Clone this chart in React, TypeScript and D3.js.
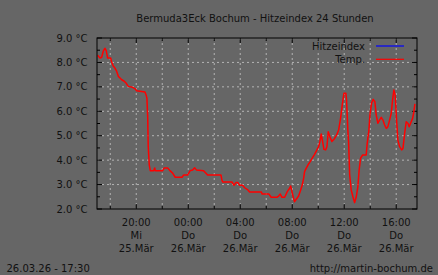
import React from "react";
import * as d3 from "d3";

// hours since 25.03 00:00
const hours = [17.03,17.21,17.34,17.46,17.59,17.69,17.80,18.03,18.11,18.23,18.36,18.49,18.62,18.75,18.88,19.08,19.21,19.38,19.72,19.92,20.03,20.67,20.75,20.82,20.88,20.92,21.00,21.08,21.34,21.42,21.46,22.03,22.15,22.42,22.59,22.80,23.00,23.52,23.65,23.95,24.15,24.34,24.49,24.62,25.18,25.31,25.49,26.52,26.59,26.65,27.36,27.52,27.67,27.82,27.95,28.18,28.34,28.59,28.72,29.62,29.69,30.21,30.38,30.82,30.95,31.08,31.21,31.42,31.62,31.80,31.88,31.95,32.08,32.18,32.31,32.49,32.65,32.77,32.88,32.95,33.08,33.21,33.38,33.54,33.72,33.90,34.03,34.13,34.23,34.34,34.44,34.57,34.67,34.77,34.90,35.05,35.26,35.42,35.57,35.72,35.85,35.98,36.13,36.18,36.28,36.34,36.42,36.54,36.67,36.80,36.92,37.05,37.15,37.26,37.42,37.69,37.77,37.90,37.98,38.11,38.23,38.36,38.46,38.59,38.72,38.85,38.98,39.11,39.24,39.36,39.49,39.62,39.72,39.82,39.92,40.03,40.13,40.26,40.42,40.52,40.65,40.77,40.90,41.00,41.11,41.26,41.36,41.44];
const temps = [8.29,8.18,8.21,8.46,8.58,8.48,8.18,8.18,8.02,7.85,7.77,7.64,7.43,7.36,7.29,7.23,7.16,7.02,6.98,6.92,6.84,6.79,6.68,6.54,5.79,4.57,3.81,3.57,3.57,3.68,3.57,3.57,3.68,3.68,3.57,3.47,3.30,3.30,3.39,3.39,3.57,3.60,3.69,3.60,3.57,3.49,3.39,3.39,3.19,3.11,3.11,2.97,3.08,3.08,2.97,2.97,2.87,2.78,2.70,2.70,2.61,2.61,2.48,2.48,2.53,2.61,2.48,2.48,2.71,2.85,2.94,2.78,2.48,2.30,2.40,2.53,2.78,2.98,3.26,3.53,3.67,3.80,3.94,4.08,4.24,4.42,4.55,4.76,5.07,4.76,4.44,4.42,4.55,5.16,4.96,4.76,4.89,5.03,5.23,5.71,6.26,6.74,6.74,6.46,5.23,4.69,3.39,2.78,2.50,2.26,2.48,2.91,3.60,4.08,4.21,4.21,4.69,5.23,5.85,6.35,6.49,6.39,5.85,5.51,5.64,5.75,5.64,5.44,5.30,5.37,5.64,5.92,6.46,6.87,6.67,5.64,4.82,4.55,4.42,4.48,5.10,5.57,5.51,5.37,5.51,5.71,5.98,6.30];

const yTicks = [2, 3, 4, 5, 6, 7, 8, 9];
const yMinor = [2.5, 3.5, 4.5, 5.5, 6.5, 7.5, 8.5];
const xGrid = [18, 20, 22, 24, 26, 28, 30, 32, 34, 36, 38, 40];
const xMajor = [20, 24, 28, 32, 36, 40];
const xTimeLabels = ["20:00", "00:00", "04:00", "08:00", "12:00", "16:00"];
const xDayLabels = ["Mi", "Do", "Do", "Do", "Do", "Do"];
const xDateLabels = ["25.Mär", "26.Mär", "26.Mär", "26.Mär", "26.Mär", "26.Mär"];
const legendNames = ["Hitzeindex", "Temp."];
const legendColors = ["#0000ff", "#ff0000"];
const title = "Bermuda3Eck Bochum - Hitzeindex 24 Stunden";
const footerLeft = "26.03.26 - 17:30";
const footerRight = "http://martin-bochum.de";

const W = 438, H = 275;
const L = 97, R = 417, T = 38, B = 209;
const font = "DejaVu Sans, sans-serif";

export default function App() {
  const x = d3.scaleLinear().domain([16.98, 41.6]).range([L, R]);
  const y = d3.scaleLinear().domain([2, 9]).range([B, T]);
  const data = hours.map((h, i) => [h, temps[i]] as [number, number]);
  const line = d3.line<[number, number]>().x(d => x(d[0])).y(d => y(d[1]));
  const txt = "#111";
  return (
    <svg width={W} height={H} style={{ position: "absolute", left: 0, top: 0 }} fontFamily={font} fontSize={10}>
      <rect x={0} y={0} width={W} height={H} fill="#666666" />
      <text x={255} y={22} textAnchor="middle" fill={txt}>{title}</text>
      {/* grid */}
      {yTicks.filter(v => v > 2 && v < 9).map(v => (
        <line key={"gy" + v} x1={L} x2={R} y1={y(v)} y2={y(v)} stroke="#b4b4b4" strokeDasharray="2,3" />
      ))}
      {xGrid.map(v => (
        <line key={"gx" + v} x1={x(v)} x2={x(v)} y1={T} y2={B} stroke="#b4b4b4" strokeDasharray="2,3" />
      ))}
      {/* ticks */}
      {yTicks.map(v => (
        <g key={"ty" + v}>
          <line x1={L} x2={L + 5} y1={y(v)} y2={y(v)} stroke="#000" />
          <line x1={R} x2={R - 5} y1={y(v)} y2={y(v)} stroke="#000" />
          <text x={87.5} y={y(v)} dy="0.35em" textAnchor="end" fill={txt}>{v.toFixed(1) + " °C"}</text>
        </g>
      ))}
      {yMinor.map(v => (
        <g key={"tm" + v}>
          <line x1={L} x2={L + 3} y1={y(v)} y2={y(v)} stroke="#000" />
          <line x1={R} x2={R - 3} y1={y(v)} y2={y(v)} stroke="#000" />
        </g>
      ))}
      {xGrid.map(v => {
        const len = xMajor.includes(v) ? 5 : 3;
        return (
          <g key={"tx" + v}>
            <line x1={x(v)} x2={x(v)} y1={B} y2={B - len} stroke="#000" />
            <line x1={x(v)} x2={x(v)} y1={T} y2={T + len} stroke="#000" />
          </g>
        );
      })}
      {xMajor.map((v, i) => (
        <g key={"lx" + v} fill={txt} textAnchor="middle">
          <text x={x(v)} y={226}>{xTimeLabels[i]}</text>
          <text x={x(v)} y={239}>{xDayLabels[i]}</text>
          <text x={x(v)} y={252}>{xDateLabels[i]}</text>
        </g>
      ))}
      {/* data */}
      <path d={line(data) || ""} fill="none" stroke="#ff0000" strokeWidth={1.5} strokeLinejoin="round" />
      {/* legend */}
      {legendNames.map((n, i) => (
        <g key={n}>
          <text x={365} y={46 + i * 13.3} dy="0.35em" textAnchor="end" fill={txt}>{n}</text>
          <line x1={376} x2={404} y1={46 + i * 13.3} y2={46 + i * 13.3} stroke={legendColors[i]} strokeWidth={1.2} />
        </g>
      ))}
      <rect x={L} y={T} width={R - L} height={B - T} fill="none" stroke="#000" />
      <text x={6.5} y={268} dy="0.35em" fill={txt}>{footerLeft}</text>
      <text x={433} y={268} dy="0.35em" textAnchor="end" fill={txt}>{footerRight}</text>
    </svg>
  );
}
